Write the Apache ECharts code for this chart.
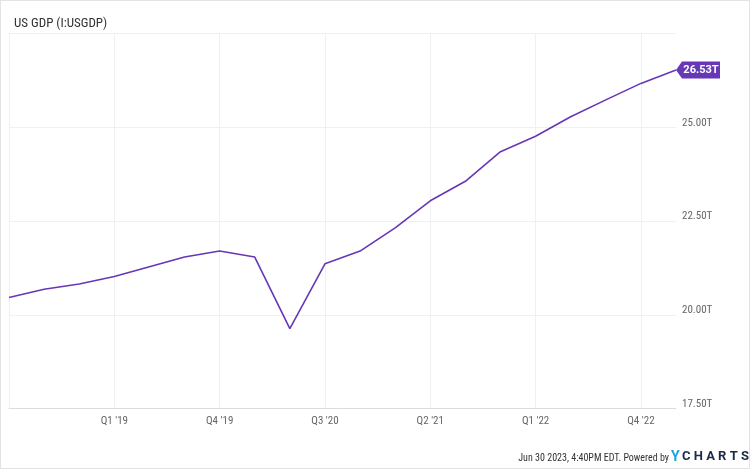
<!DOCTYPE html>
<html>
<head>
<meta charset="utf-8">
<script src="https://cdn.jsdelivr.net/npm/echarts@6/dist/echarts.min.js"></script>
<style>
html,body{margin:0;padding:0;background:#fff;}
#c{width:750px;height:469px;box-sizing:border-box;border:1px solid #e3e3e3;}
</style>
</head>
<body>
<div id="c"></div>
<script>
var categories = ["Q2 '18","Q3 '18","Q4 '18","Q1 '19","Q2 '19","Q3 '19","Q4 '19","Q1 '20","Q2 '20","Q3 '20","Q4 '20","Q1 '21","Q2 '21","Q3 '21","Q4 '21","Q1 '22","Q2 '22","Q3 '22","Q4 '22","Q1 '23"];
var gdpValues = [20.46,20.68,20.82,21.02,21.28,21.54,21.70,21.54,19.63,21.36,21.70,22.32,23.04,23.56,24.35,24.76,25.28,25.73,26.17,26.53];
var yTicks = [17.5,20,22.5,25,27.5];

var purple = '#6637b6';
var narrow = "'Roboto Condensed','Liberation Sans Narrow',Roboto";
var chart = echarts.init(document.getElementById('c'), null, {renderer:'canvas'});
var last = gdpValues.length - 1;
chart.setOption({
  animation:false,
  title:{text:'US GDP (I:USGDP)', left:8, top:11, textStyle:{fontFamily:narrow, fontSize:13, fontWeight:'normal', color:'#333'}},
  grid:{left:8, right:73, top:32.5, bottom:59.4, containLabel:false},
  xAxis:{
    type:'category', data:categories, boundaryGap:false,
    axisLine:{show:true, lineStyle:{color:'#dcdcdc'}},
    axisTick:{show:false},
    axisLabel:{interval:function(i){return i%3===0 && i>0;}, color:'#666', fontFamily:narrow, fontSize:11, margin:7},
    splitLine:{show:true, interval:function(i){return i%3===0;}, lineStyle:{color:'#f0f0f0'}}
  },
  yAxis:{
    type:'value', position:'right', min:yTicks[0], max:yTicks[yTicks.length-1], interval:2.5,
    axisLine:{show:false}, axisTick:{show:false},
    axisLabel:{color:'#666', fontFamily:narrow, fontSize:11, margin:6, verticalAlign:'bottom', lineHeight:9,
      formatter:function(v){return v===27.5?'':v.toFixed(2)+'T';}},
    splitLine:{show:true, lineStyle:{color:'#f0f0f0'}}
  },
  series:[{
    type:'line', data:gdpValues, symbol:'none', lineStyle:{color:purple, width:1.6},
    markPoint:{
      symbol:'path://M0,8.5 L6,0 L44,0 L44,17 L6,17 Z', symbolSize:[44,17], symbolKeepAspect:false,
      symbolOffset:[22,0],
      itemStyle:{color:purple},
      label:{show:true, color:'#fff', fontFamily:"Roboto", fontWeight:'bold', fontSize:11, offset:[3,0],
        formatter:function(p){return p.value.toFixed(2)+'T';}},
      data:[{coord:[last, gdpValues[last]], value:gdpValues[last]}]
    }
  }],
  graphic:[
    {type:'text', right:80, top:452, style:{text:'Jun 30 2023, 4:40PM EDT. Powered by', fontFamily:narrow, fontSize:10, fill:'#333'}},
    {type:'text', left:670, top:449, style:{text:'Y', fontFamily:'Roboto', fontSize:14, fontWeight:'bold', fill:'#22a3e0'}},
    {type:'text', left:681, top:449, style:{text:'C H A R T S', fontFamily:'Roboto', fontSize:13, fontWeight:'bold', fill:'#1b2a48'}}
  ]
});
</script>
</body>
</html>
